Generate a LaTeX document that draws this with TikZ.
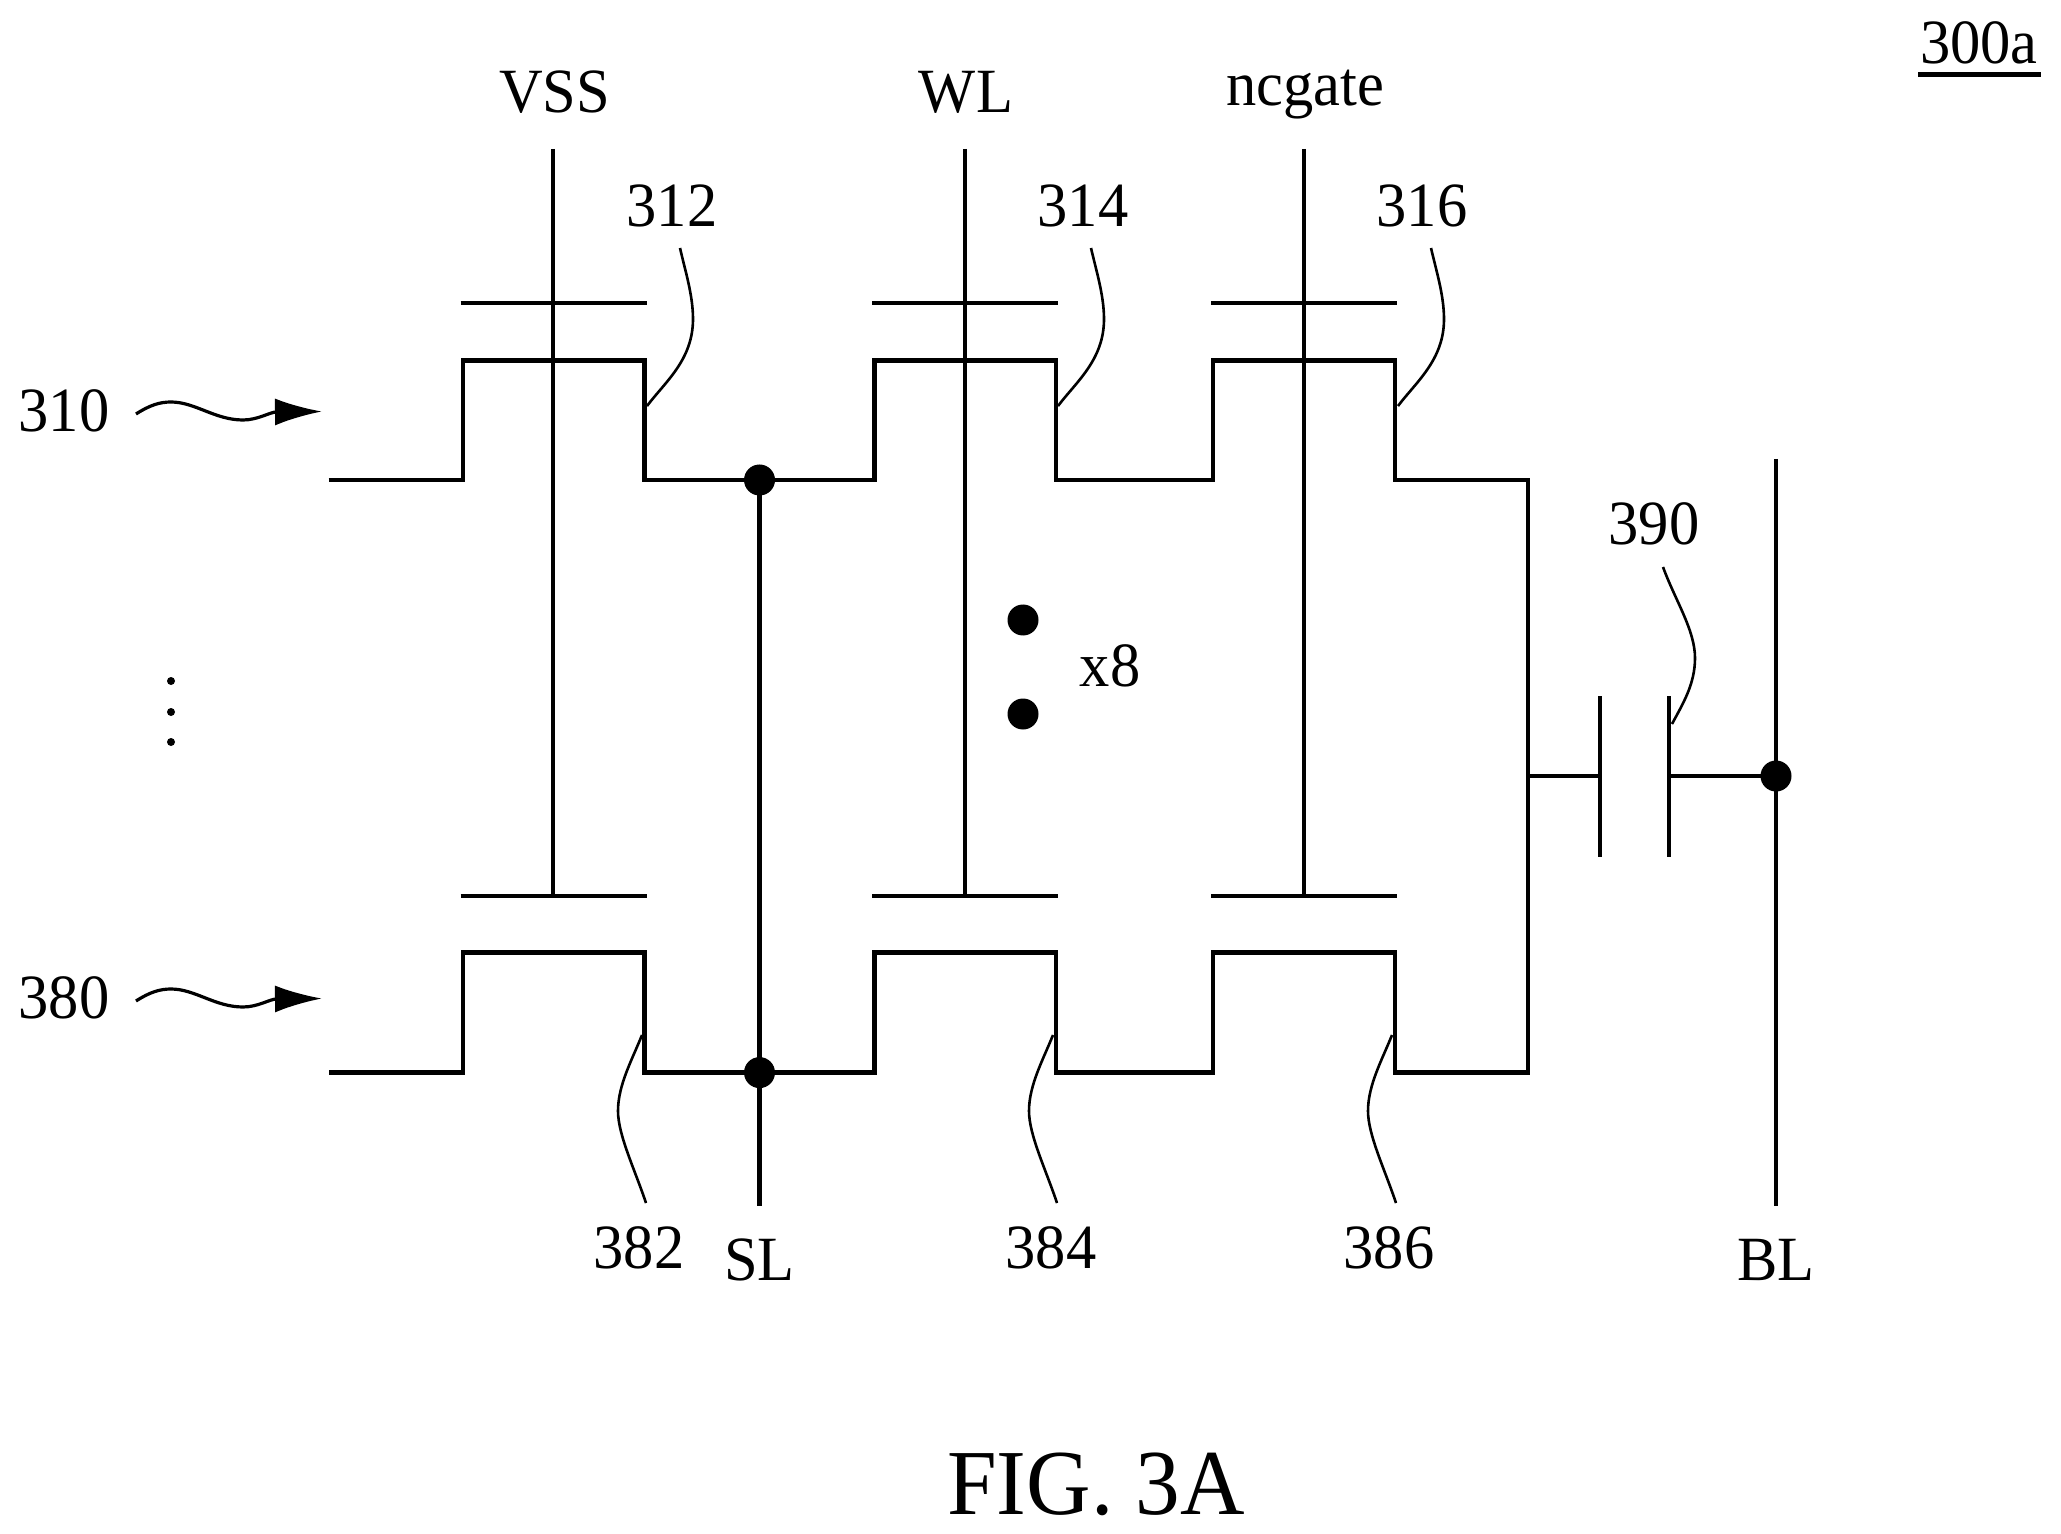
\documentclass[tikz,border=0pt]{standalone}
\usepackage{fontspec}
\setmainfont[FakeStretch=0.96]{Liberation Serif}
\usetikzlibrary{arrows.meta}

\tikzset{every picture/.style={line width=2pt}}
\tikzset{
	wire/.style={line width=2.3pt},
	leader/.style={line width=1.3pt},
	flag/.style={line width=1.6pt,-{Latex[length=23.5pt,width=13.5pt]}},
	junction/.style={circle,fill=black,inner sep=0pt,outer sep=0pt,minimum size=15.5pt},
	tinydot/.style={circle,fill=black,inner sep=0pt,outer sep=0pt,minimum size=4pt},
	lbl/.style={anchor=base,inner sep=0pt,font=\fontsize{31.5}{31.5}\selectfont},
	figlbl/.style={anchor=base,inner sep=0pt,font=\fontsize{46.5}{46.5}\selectfont}
}

\begin{document}
\begin{tikzpicture}[x=0.5pt,y=0.5pt,yscale=-1,xscale=1]
	\useasboundingbox (0,0) rectangle (2061,1534);

	% Free ends and junctions
	\coordinate (vsstop) at (553,149);
	\coordinate (wltop) at (965,149);
	\coordinate (nctop) at (1304,149);
	\coordinate (vssbot) at (553,896);
	\coordinate (wlbot) at (965,896);
	\coordinate (ncbot) at (1304,896);
	\coordinate (slend) at (759.5,1206);
	\coordinate (bltop) at (1776,459);
	\coordinate (blend) at (1776,1206);
	\coordinate (capleft) at (1600,776);
	\coordinate (capright) at (1669,776);
	\coordinate (railtap) at (1528,776);
	\node [junction] (sltop) at (759.5,480) {};
	\node [junction] (slbot) at (759.5,1072.6) {};
	\node [junction] (blnode) at (1776,776) {};
	\node [junction] (rowdota) at (1023,620) {};
	\node [junction] (rowdotb) at (1023,714) {};
	\node [tinydot] (leftdota) at (171,681) {};
	\node [tinydot] (leftdotb) at (171,712) {};
	\node [tinydot] (leftdotc) at (171,742) {};

	%Straight Lines
	\draw [wire] (vsstop) -- (vssbot) ;
	\draw [wire] (wltop) -- (wlbot) ;
	\draw [wire] (nctop) -- (ncbot) ;
	\draw [wire] (sltop) -- (slend) ;
	\draw [wire] (bltop) -- (blend) ;
	\draw [wire] (railtap) -- (capleft) ;
	\draw [wire] (capright) -- (blnode) ;
	%Gate bars
	\draw [wire] (460.5,303) -- (646.5,303) ;
	\draw [wire] (872,303) -- (1058,303) ;
	\draw [wire] (1211,303) -- (1397,303) ;
	\draw [wire] (460.5,896) -- (646.5,896) ;
	\draw [wire] (872,896) -- (1058,896) ;
	\draw [wire] (1211,896) -- (1397,896) ;
	%Capacitor plates
	\draw [wire] (1600,696) -- (1600,857) ;
	\draw [wire] (1669,696) -- (1669,857) ;
	%Channels
	\draw [wire] (328.5,480) -- (463,480) -- (463,360.5) -- (644.5,360.5) -- (644.5,480) -- (874.5,480) -- (874.5,360.5) -- (1056,360.5) -- (1056,480) -- (1213,480) -- (1213,360.5) -- (1395,360.5) -- (1395,480) -- (1528,480) -- (1528,1072.6) -- (1395,1072.6) -- (1395,952.7) -- (1213,952.7) -- (1213,1072.6) -- (1056,1072.6) -- (1056,952.7) -- (874.5,952.7) -- (874.5,1072.6) -- (644.5,1072.6) -- (644.5,952.7) -- (463,952.7) -- (463,1072.6) -- (328.5,1072.6) ;

	%Leaders
	\draw [leader] (647,406) .. controls (665,382) and (693,360) .. (693,319) .. controls (693,295) and (685,270) .. (680,248) ;
	\draw [leader] (1058,406) .. controls (1076,382) and (1104,360) .. (1104,319) .. controls (1104,295) and (1096,270) .. (1091,248) ;
	\draw [leader] (1398,406) .. controls (1416,382) and (1444,360) .. (1444,319) .. controls (1444,295) and (1436,270) .. (1431,248) ;
	\draw [leader] (1672,724) .. controls (1682,705) and (1695,685) .. (1695,658) .. controls (1695,630) and (1675,600) .. (1663,567) ;
	\draw [leader] (642,1035) .. controls (632,1060) and (618,1085) .. (618,1111) .. controls (618,1135) and (635,1170) .. (646,1203) ;
	\draw [leader] (1053,1035) .. controls (1043,1060) and (1029,1085) .. (1029,1111) .. controls (1029,1135) and (1046,1170) .. (1057,1203) ;
	\draw [leader] (1392,1035) .. controls (1382,1060) and (1368,1085) .. (1368,1111) .. controls (1368,1135) and (1385,1170) .. (1396,1203) ;

	%Row arrows
	\draw [flag] (136,414) .. controls (150,405) and (160,402) .. (171,402) .. controls (195,402) and (215,420) .. (243,420) .. controls (258,420) and (270,412) .. (322,411.5) ;
	\draw [flag] (136,1001) .. controls (150,992) and (160,989) .. (171,989) .. controls (195,989) and (215,1007) .. (243,1007) .. controls (258,1007) and (270,999) .. (322,998.5) ;

	% Text Node
	\node [lbl] (vsslbl) at (554.5,113) {VSS};
	\node [lbl] (wllbl) at (966,113) {WL};
	\node [lbl] (nclbl) at (1305,106) {ncgate};
	\node [lbl] (n312) at (672,227) {312};
	\node [lbl] (n314) at (1083,227) {314};
	\node [lbl] (n316) at (1422,227) {316};
	\node [lbl] (n390) at (1654,545) {390};
	\node [lbl] (n310) at (64,432) {310};
	\node [lbl] (n380) at (64,1018.5) {380};
	\node [lbl] (n382) at (639,1268.5) {382};
	\node [lbl] (n384) at (1051,1268.5) {384};
	\node [lbl] (n386) at (1389,1268.5) {386};
	\node [lbl] (sllbl) at (759.5,1280) {SL};
	\node [lbl] (bllbl) at (1776,1280) {BL};
	\node [lbl] (x8lbl) at (1110,686) {x8};
	\node [lbl] (n300a) at (1979,63.5) {300a};
	\draw [wire] (1918,74.6) -- (2040.5,74.6) ;
	\node [figlbl] (figlbl) at (1096,1514) {FIG. 3A};
\end{tikzpicture}
\end{document}
